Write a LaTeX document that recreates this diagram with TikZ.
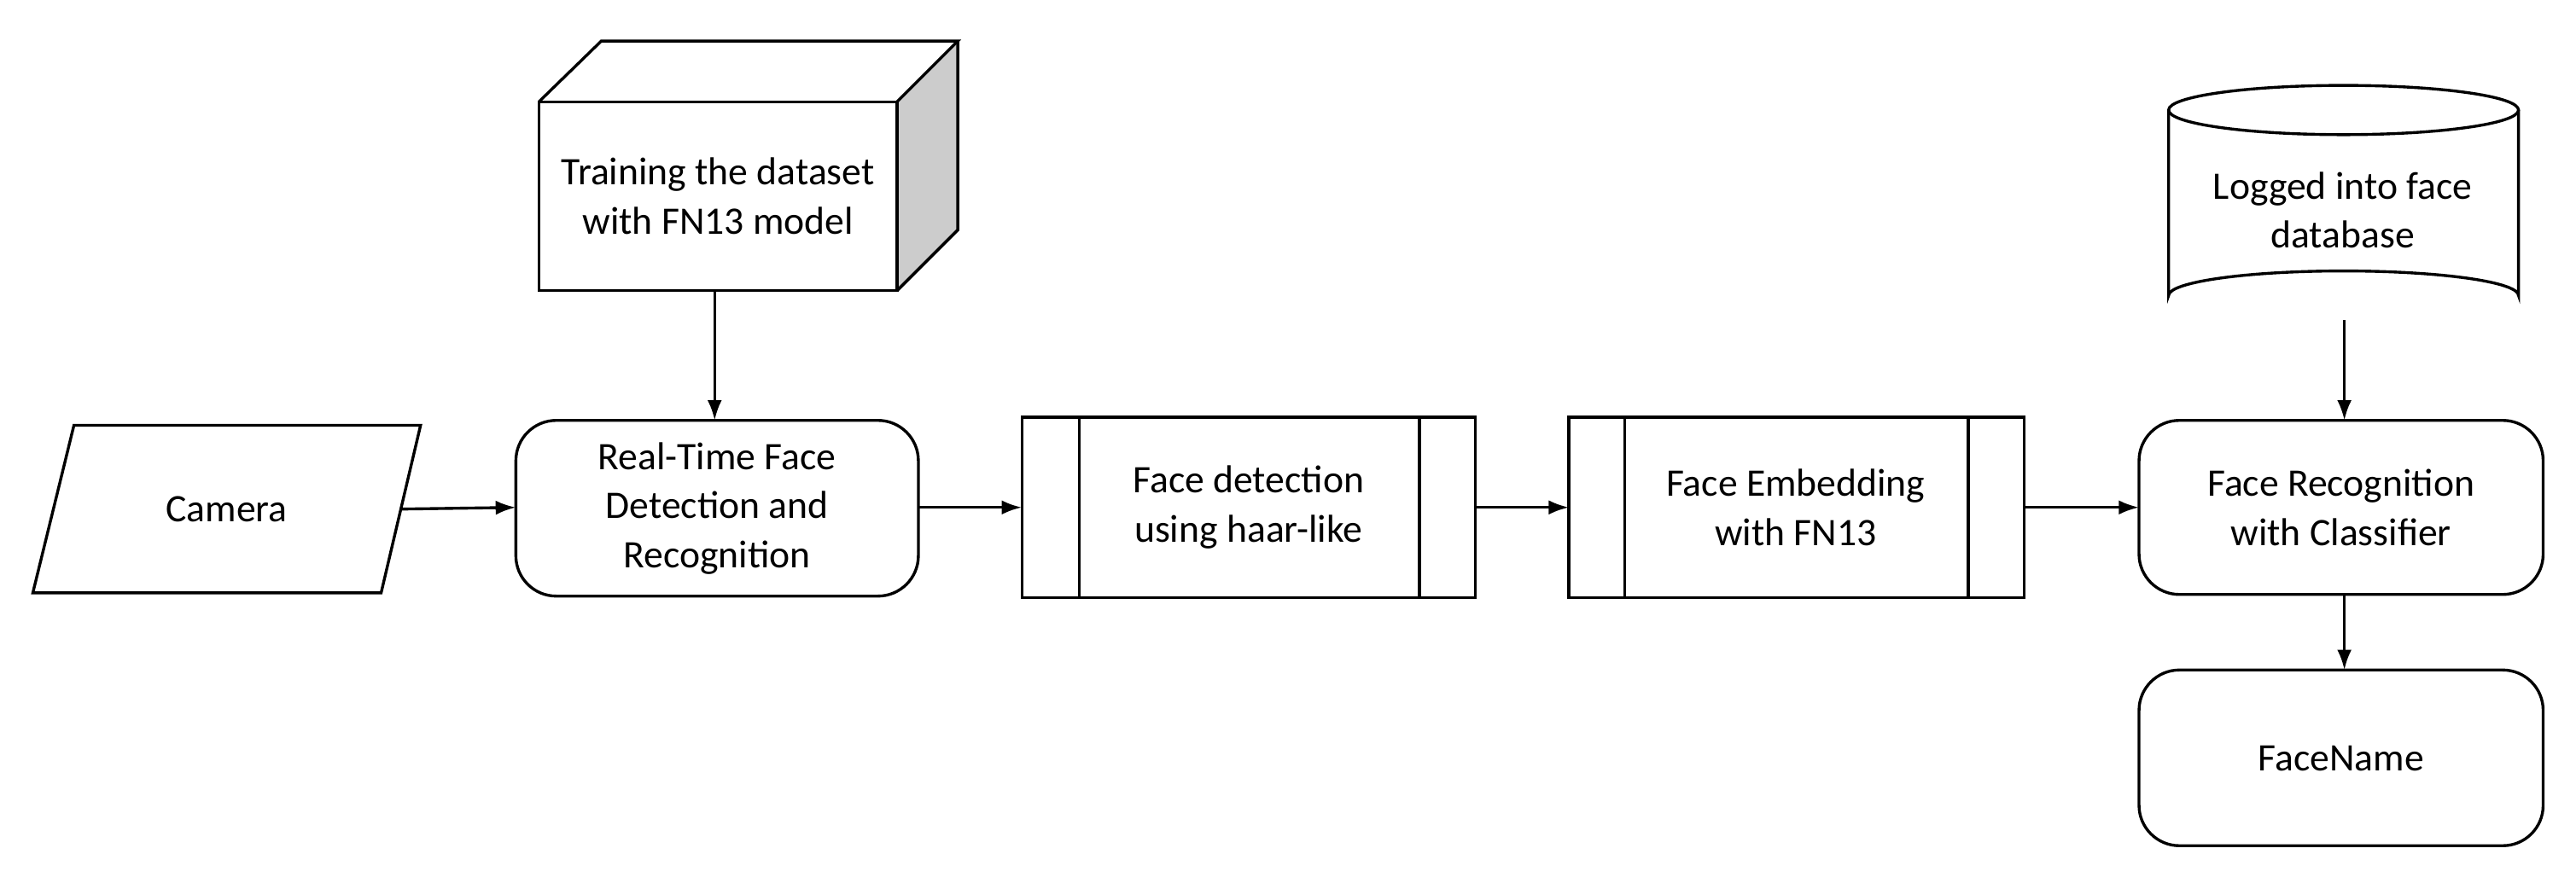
\documentclass[tikz,border=0pt]{standalone}
\usepackage{fontspec}
\setmainfont{Carlito}
\usetikzlibrary{arrows.meta}
\begin{document}
\begin{tikzpicture}[x=0.02cm,y=-0.02cm,
  box/.style={draw,line width=1pt,rounded corners=14pt},
  ln/.style={draw,line width=1pt},
  arr/.style={-{Latex[length=7pt,width=5pt]},line width=1pt},
  txt/.style={align=center,font=\fontsize{13.5}{17}\selectfont}]
\useasboundingbox (0,0) rectangle (1568,541);
% camera
\draw[ln] (20,361)--(45,259)--(256,259)--(232,361)--cycle;
\node[txt] (cam) at (138,310) {Camera};
\coordinate (camR) at (244,310);
% real-time
\draw[box] (314,256) rectangle (559,363);
\node[txt] (rt) at (436.5,309.5) {Real-Time Face\\Detection and\\Recognition};
\coordinate (rtL) at (314,309); \coordinate (rtR) at (559,309); \coordinate (rtT) at (435,256);
% cube
\fill[gray!40] (546,62)--(583,25)--(583,140)--(546,177)--cycle;
\draw[ln] (328,62) rectangle (546,177);
\draw[ln] (328,62)--(366,25)--(583,25)--(546,62);
\draw[ln] (583,25)--(583,140)--(546,177);
\node[txt] (cube) at (437,119.5) {Training the dataset\\with FN13 model};
\coordinate (cubeB) at (435,177);
% face detection
\draw[ln] (622,254) rectangle (898,364);
\draw[ln] (657,254)--(657,364) (864,254)--(864,364);
\node[txt] (fd) at (760,309) {Face detection\\using haar-like};
\coordinate (fdL) at (622,309); \coordinate (fdR) at (898,309);
% face embedding
\draw[ln] (955,254) rectangle (1232,364);
\draw[ln] (989,254)--(989,364) (1198,254)--(1198,364);
\node[txt] (fe) at (1093,309) {Face Embedding\\with FN13};
\coordinate (feL) at (955,309); \coordinate (feR) at (1232,309);
% face recognition
\draw[box] (1302,256) rectangle (1548,362);
\node[txt] (fr) at (1425,309) {Face Recognition\\with Classifier};
\coordinate (frL) at (1302,309); \coordinate (frT) at (1427,256); \coordinate (frB) at (1427,362);
% cylinder
\draw[ln] (1320,67) -- (1320,180) arc[start angle=180,end angle=360,x radius=106.5,y radius=15] -- (1533,67);
\draw[ln] (1426.5,67) ellipse [x radius=106.5,y radius=15];
\node[txt] (db) at (1426,128) {Logged into face\\database};
\coordinate (dbB) at (1427,195);
% facename
\draw[box] (1302,408) rectangle (1548,515);
\node[txt] (fn) at (1425,462) {FaceName};
\coordinate (fnT) at (1427,408);
% arrows
\draw[arr] (camR) -- (rtL);
\draw[arr] (cubeB) -- (rtT);
\draw[arr] (rtR) -- (fdL);
\draw[arr] (fdR) -- (feL);
\draw[arr] (feR) -- (frL);
\draw[arr] (dbB) -- (frT);
\draw[arr] (frB) -- (fnT);
\end{tikzpicture}
\end{document}
